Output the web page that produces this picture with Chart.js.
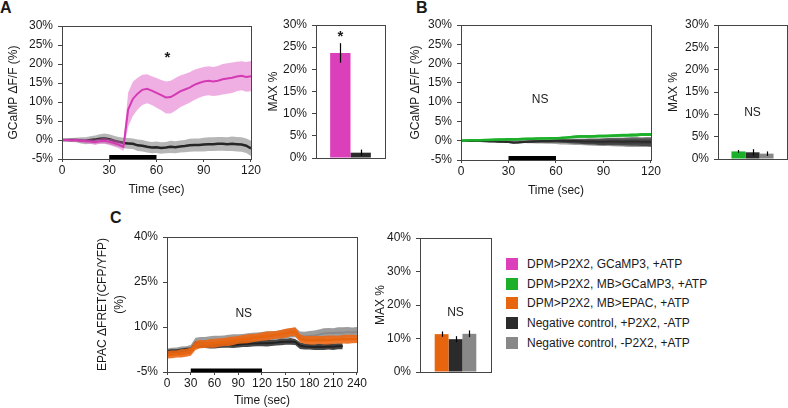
<!DOCTYPE html>
<html>
<head>
<meta charset="utf-8">
<script src="https://cdn.jsdelivr.net/npm/chart.js@4.4.0/dist/chart.umd.min.js"></script>
<style>
body { margin: 0; background: #fff; width: 788px; height: 408px; position: relative; overflow: hidden; font-family: "Liberation Sans", Arial, sans-serif; color: #1a1a1a; }
canvas { position: absolute; }
.panel { position: absolute; font-weight: bold; font-size: 16px; line-height: 1; }
#legend { position: absolute; left: 506px; top: 254px; font-size: 12px; }
.item { height: 19.7px; display: flex; align-items: center; white-space: nowrap; }
.sw { width: 12px; height: 12px; margin-right: 9px; }
</style>
</head>
<body>
<div class="panel" style="left:0px;top:0px">A</div>
<div class="panel" style="left:416px;top:0px">B</div>
<div class="panel" style="left:110px;top:210px">C</div>

<canvas id="line_a" width="262" height="200" style="left:0px;top:0px"></canvas>
<canvas id="bar_a" width="130" height="200" style="left:262px;top:0px"></canvas>
<canvas id="line_b" width="262" height="200" style="left:400px;top:0px"></canvas>
<canvas id="bar_b" width="126" height="200" style="left:662px;top:0px"></canvas>
<canvas id="line_c" width="308" height="208" style="left:60px;top:200px"></canvas>
<canvas id="bar_c" width="130" height="208" style="left:370px;top:200px"></canvas>
<div id="legend"></div>

<script>
// Legenda
var legend_labels = ['DPM>P2X2, GCaMP3, +ATP', 'DPM>P2X2, MB>GCaMP3, +ATP', 'DPM>P2X2, MB>EPAC, +ATP',
                     'Negative control, +P2X2, -ATP', 'Negative control, -P2X2, +ATP'];
var legend_colors = ['#dc3fba', '#1cb02a', '#e8650f', '#2b2b2b', '#888888'];

// Tempo (sec) - painéis A e B
var time_ab = [0,3,6,9,12,15,18,21,24,27,30,33,36,39,42,45,48,51,54,57,60,63,66,69,72,75,78,81,84,87,90,93,96,99,102,105,108,111,114,117,120];
// Tempo (sec) - painel C
var time_c = [0,6,12,18,24,30,36,42,48,54,60,66,72,78,84,90,96,102,108,114,120,126,132,138,144,150,156,162,168,174,180,186,192,198,204,210,216,222,228,234,240];

// Estímulo ATP (início, fim)
var stim_ab = [30, 60];
var stim_c = [30, 120];

// Painel A: GCaMP dF/F (%)
var a_dpm = [0,0,-0.1,0,-0.2,-0.3,-0.4,-0.6,-0.3,-0.2,-0.5,-0.8,-1.2,-1.8,8.0,10.8,12.2,13.2,13.5,13.0,12.4,11.8,11.2,11.3,12.0,12.8,13.3,13.8,14.5,15.0,15.4,15.6,15.4,15.6,16.0,16.2,16.4,16.7,16.9,16.6,16.8];
var a_dpm_sem = [0.3,0.3,0.4,0.4,0.5,0.5,0.6,0.7,0.7,0.8,0.8,0.9,1.0,1.1,4.5,4.5,4.2,4.0,3.8,3.8,3.9,4.0,4.2,4.3,4.3,4.2,4.1,4.0,4.0,3.9,3.8,3.8,3.8,3.9,4.0,4.0,4.0,3.9,3.8,3.9,4.0];
var a_ctrl = [0,0,0,0,-0.1,-0.2,0,0.1,0.3,0.4,0.2,-0.2,-0.5,-0.8,-0.9,-1.0,-1.4,-1.5,-1.8,-2.0,-1.9,-2.1,-2.0,-1.8,-1.9,-1.7,-1.6,-1.4,-1.3,-1.3,-1.2,-1.1,-1.1,-1.0,-1.0,-1.1,-1.0,-1.1,-1.2,-1.5,-2.2];
var a_ctrl_sem = [0.3,0.4,0.5,0.6,0.8,0.9,1.0,1.1,1.2,1.3,1.3,1.3,1.3,1.4,1.4,1.4,1.5,1.5,1.5,1.5,1.5,1.5,1.5,1.6,1.6,1.6,1.6,1.7,1.7,1.7,1.8,1.8,1.8,1.8,1.8,1.8,1.9,1.9,1.9,1.9,2.0];

// Painel B: MB GCaMP dF/F (%)
var b_dpm = [0,0.05,0.1,0.1,0.15,0.2,0.2,0.25,0.3,0.3,0.35,0.35,0.4,0.45,0.5,0.5,0.55,0.6,0.6,0.65,0.65,0.7,0.8,0.9,1.0,1.1,1.1,1.1,1.15,1.2,1.2,1.25,1.3,1.35,1.4,1.4,1.45,1.5,1.6,1.6,1.6];
var b_dpm_sem = [0.2,0.2,0.2,0.25,0.25,0.25,0.3,0.3,0.3,0.3,0.3,0.3,0.3,0.3,0.3,0.3,0.3,0.3,0.3,0.3,0.3,0.3,0.3,0.3,0.35,0.35,0.35,0.35,0.35,0.35,0.35,0.35,0.35,0.4,0.4,0.4,0.4,0.4,0.4,0.4,0.4];
var b_ctrl_atp = [0,0,-0.05,-0.1,-0.1,-0.15,-0.2,-0.2,-0.25,-0.3,-0.35,-0.5,-0.45,-0.35,-0.25,-0.2,-0.15,-0.1,-0.1,-0.05,0,0,-0.05,-0.1,-0.1,-0.15,-0.2,-0.2,-0.2,-0.25,-0.25,-0.2,-0.2,-0.2,-0.25,-0.2,-0.2,-0.2,-0.25,-0.25,-0.3];
var b_ctrl_atp_sem = [0.1,0.1,0.1,0.15,0.15,0.15,0.2,0.2,0.2,0.2,0.25,0.25,0.25,0.3,0.3,0.3,0.3,0.35,0.35,0.4,0.4,0.45,0.5,0.55,0.6,0.65,0.7,0.75,0.8,0.85,0.9,0.9,0.95,1.0,1.0,1.05,1.1,1.1,1.1,1.15,1.2];
var b_ctrl_p2x2 = [0,0,0,-0.05,-0.05,-0.1,-0.1,-0.1,-0.15,-0.15,-0.2,-0.2,-0.2,-0.2,-0.25,-0.25,-0.25,-0.3,-0.3,-0.3,-0.3,-0.35,-0.35,-0.4,-0.4,-0.4,-0.45,-0.45,-0.5,-0.5,-0.5,-0.5,-0.55,-0.55,-0.55,-0.6,-0.6,-0.6,-0.6,-0.6,-0.6];
var b_ctrl_p2x2_sem = [0.1,0.1,0.15,0.15,0.2,0.2,0.2,0.25,0.25,0.3,0.3,0.3,0.35,0.35,0.4,0.4,0.45,0.45,0.5,0.5,0.55,0.6,0.6,0.65,0.7,0.7,0.75,0.8,0.8,0.85,0.9,0.9,0.9,0.95,0.95,1.0,1.0,1.0,1.0,1.0,1.0];

// Painel C: EPAC dFRET (%)
var c_dpm = [0.7,0.9,1.0,1.2,1.4,1.8,3.8,4.3,4.3,4.5,4.6,4.8,5.0,5.2,5.4,5.7,5.9,6.1,6.3,6.5,6.8,7.0,7.2,7.4,7.6,7.9,8.3,8.4,6.2,5.7,5.6,5.6,5.7,5.6,5.7,5.8,5.8,5.9,5.9,6.0,6.0];
var c_dpm_sem = [1.2,1.3,1.2,1.4,1.3,1.4,1.5,1.4,1.3,1.4,1.5,1.4,1.3,1.5,1.4,1.3,1.4,1.5,1.4,1.3,1.4,1.5,1.4,1.3,1.4,1.5,1.4,1.5,1.4,1.3,1.4,1.5,1.3,1.4,1.5,1.4,1.3,1.4,1.5,1.4,1.3];
var c_ctrl_atp = [1.5,1.6,1.7,1.8,2.0,2.2,4.2,4.0,3.9,3.8,3.9,4.0,4.0,4.1,4.1,4.2,4.3,4.4,4.5,4.5,4.6,4.6,4.7,4.8,5.0,5.1,5.2,5.0,3.8,3.5,3.4,3.3,3.4,3.3,3.5,3.4,3.6,3.6];
var c_ctrl_atp_sem = [0.9,1.0,0.9,1.0,1.1,1.0,1.1,1.0,0.9,1.0,1.1,1.0,0.9,1.0,1.1,1.0,1.0,1.1,1.0,0.9,1.0,1.1,1.0,1.0,1.1,1.0,1.1,1.0,1.1,1.0,0.9,1.0,1.1,1.0,1.0,1.1,1.0,1.0];
var c_ctrl_p2x2 = [1.5,1.7,1.9,2.0,2.2,2.6,4.8,5.2,5.3,5.4,5.5,5.6,5.8,5.9,6.0,6.1,6.3,6.4,6.5,6.7,6.8,7.0,7.1,7.3,7.5,7.7,8.0,8.2,7.0,6.8,7.0,7.2,7.5,7.8,8.0,8.0,8.2,8.1,8.3,8.2,8.3];
var c_ctrl_p2x2_sem = [1.3,1.4,1.3,1.5,1.4,1.4,1.6,1.5,1.4,1.5,1.6,1.5,1.4,1.5,1.6,1.5,1.4,1.5,1.6,1.5,1.5,1.6,1.5,1.4,1.5,1.6,1.5,1.6,1.5,1.6,1.7,1.6,1.7,1.8,1.7,1.6,1.7,1.8,1.7,1.6,1.7];

// MAX % (média, erro)
var max_a = [23.7, 1.2];
var max_a_err = [2.2, 0.7];
var max_b = [1.7, 1.5, 1.2];
var max_b_err = [0.3, 0.7, 0.5];
var max_c = [11.3, 9.8, 11.4];
var max_c_err = [0.8, 0.9, 1.0];

Chart.defaults.font.family = '"Liberation Sans", Arial, sans-serif';
Chart.defaults.font.size = 12;
Chart.defaults.color = '#1a1a1a';

// Legenda em HTML
var leg = document.getElementById('legend');
for (var i = 0; i < legend_labels.length; i++) {
    var row = document.createElement('div');
    row.className = 'item';
    row.innerHTML = '<div class="sw" style="background:' + legend_colors[i] + '"></div>';
    row.appendChild(document.createTextNode(legend_labels[i]));
    leg.appendChild(row);
}

var axis_color = '#444';
var ord = 1000;

// Banda (média +- erro) e linha média
function band(list, xs, mean, sem, line_color, fill_color, lw) {
    var up = [], lo = [], mid = [];
    for (var i = 0; i < mean.length; i++) {
        up.push({x: xs[i], y: mean[i] + sem[i]});
        lo.push({x: xs[i], y: mean[i] - sem[i]});
        mid.push({x: xs[i], y: mean[i]});
    }
    list.push({data: up, borderWidth: 0, borderColor: 'rgba(0,0,0,0)', pointRadius: 0, fill: false, order: ord--});
    list.push({data: lo, borderWidth: 0, borderColor: 'rgba(0,0,0,0)', pointRadius: 0, fill: '-1', backgroundColor: fill_color, order: ord--});
    list.push({data: mid, borderWidth: lw, borderColor: line_color, pointRadius: 0, fill: false, order: ord--});
}

function stim(list, s) {
    list.push({data: [{x: s[0], y: -4.5}, {x: s[1], y: -4.5}], borderColor: '#000', borderWidth: 4,
               borderCapStyle: 'butt', pointRadius: 0, fill: false, order: 0});
}

// Caixa, barras de erro e textos
function extras(notes) {
    return {
        id: 'extras',
        afterDatasetsDraw: function(chart) {
            var ctx = chart.ctx, a = chart.chartArea, y = chart.scales.y;
            ctx.save();
            ctx.strokeStyle = axis_color;
            ctx.lineWidth = 1;
            ctx.strokeRect(Math.round(a.left) + 0.5, Math.round(a.top) + 0.5,
                           Math.round(a.right - a.left), Math.round(a.bottom - a.top));
            chart.data.datasets.forEach(function(ds, i) {
                if (!ds.err) return;
                chart.getDatasetMeta(i).data.forEach(function(bar, j) {
                    var x = Math.round(bar.x) + 0.5;
                    ctx.strokeStyle = '#000';
                    ctx.lineWidth = 1.2;
                    ctx.beginPath();
                    ctx.moveTo(x, y.getPixelForValue(ds.data[j] - ds.err[j]));
                    ctx.lineTo(x, y.getPixelForValue(ds.data[j] + ds.err[j]));
                    ctx.stroke();
                });
            });
            ctx.fillStyle = '#1a1a1a';
            ctx.textAlign = 'center';
            ctx.textBaseline = 'middle';
            notes.forEach(function(n) {
                var px;
                if (n.ds !== undefined) px = chart.getDatasetMeta(n.ds).data[0].x;
                else if (n.x !== undefined) px = chart.scales.x.getPixelForValue(n.x);
                else px = (a.left + a.right) / 2;
                ctx.font = n.font || '12px "Liberation Sans", Arial, sans-serif';
                ctx.fillText(n.text, px, y.getPixelForValue(n.y));
            });
            ctx.restore();
        }
    };
}

function yscale(min, max, step, title, w, tpad, lh) {
    return {
        min: min, max: max,
        ticks: {stepSize: step, padding: 5, callback: function(v) { return v + '%'; }},
        grid: {drawOnChartArea: false, tickLength: 4, color: axis_color},
        border: {color: axis_color},
        title: {display: true, text: title, padding: {top: tpad, bottom: 0}, font: {lineHeight: lh || 1.2}},
        afterFit: function(s) { s.width = w; }
    };
}

function line_chart(id, datasets, o, notes) {
    return new Chart(document.getElementById(id), {
        type: 'line',
        data: {datasets: datasets},
        options: {
            responsive: false, animation: false,
            layout: {padding: {top: o.top, right: o.right, left: 0, bottom: 0}},
            plugins: {legend: {display: false}, tooltip: {enabled: false}},
            scales: {
                x: {
                    type: 'linear', min: 0, max: o.xmax,
                    ticks: {stepSize: o.xstep, padding: 1, autoSkip: false, maxRotation: 0},
                    grid: {drawOnChartArea: false, tickLength: 3, color: axis_color},
                    border: {color: axis_color},
                    title: {display: true, text: 'Time (sec)', padding: {top: 0, bottom: o.tb}},
                    afterFit: function(s) { s.height = o.xh; }
                },
                y: yscale(o.ymin, o.ymax, o.ystep, o.ytitle, o.yw, o.tpad, o.lh)
            }
        },
        plugins: [extras(notes)]
    });
}

function bar_chart(id, values, errs, colors, o, notes) {
    var ds = [];
    for (var i = 0; i < values.length; i++) {
        ds.push({data: [values[i]], err: [errs[i]], backgroundColor: colors[i],
                 categoryPercentage: o.cat, barPercentage: 1});
    }
    return new Chart(document.getElementById(id), {
        type: 'bar',
        data: {labels: [''], datasets: ds},
        options: {
            responsive: false, animation: false,
            layout: {padding: {top: o.top, right: o.right, left: 0, bottom: 0}},
            plugins: {legend: {display: false}, tooltip: {enabled: false}},
            scales: {
                x: {
                    grid: {display: false}, ticks: {display: false},
                    border: {display: true, color: axis_color},
                    afterFit: function(s) { s.height = o.xh; }
                },
                y: yscale(0, o.ymax, o.ystep, 'MAX %', o.yw, o.tpad)
            }
        },
        plugins: [extras(notes)]
    });
}

// Painel A
var ds_a = [];
band(ds_a, time_ab, a_ctrl, a_ctrl_sem, '#262626', 'rgba(110,110,110,0.5)', 2.5);
band(ds_a, time_ab, a_dpm, a_dpm_sem, '#d43ab3', 'rgba(226,96,200,0.5)', 2);
stim(ds_a, stim_ab);
line_chart('line_a', ds_a,
    {top: 26, right: 6, xh: 41, yw: 62, xmax: 120, xstep: 30, ymin: -5, ymax: 30, ystep: 5,
     ytitle: 'GCaMP ΔF/F (%)', tpad: 6, tb: 3},
    [{x: 67, y: 21.6, text: '*', font: 'bold 15px "Liberation Sans", Arial, sans-serif'}]);

bar_chart('bar_a', max_a, max_a_err, [legend_colors[0], legend_colors[3]],
    {top: 25, right: 7, xh: 42, yw: 54, ymax: 30, ystep: 5, tpad: 4, cat: 0.59},
    [{ds: 0, y: 27.3, text: '*', font: 'bold 15px "Liberation Sans", Arial, sans-serif'}]);

// Painel B
var ds_b = [];
band(ds_b, time_ab, b_ctrl_p2x2, b_ctrl_p2x2_sem, '#777777', 'rgba(120,120,120,0.7)', 2);
band(ds_b, time_ab, b_ctrl_atp, b_ctrl_atp_sem, '#2b2b2b', 'rgba(45,45,45,0.75)', 2);
band(ds_b, time_ab, b_dpm, b_dpm_sem, '#1cb02a', 'rgba(30,176,44,0.85)', 2.5);
stim(ds_b, stim_ab);
line_chart('line_b', ds_b,
    {top: 25, right: 8, xh: 40, yw: 61, xmax: 120, xstep: 30, ymin: -5, ymax: 30, ystep: 5,
     ytitle: 'GCaMP ΔF/F (%)', tpad: 8, tb: 2},
    [{x: 50, y: 10.6, text: 'NS'}]);

bar_chart('bar_b', max_b, max_b_err, [legend_colors[1], legend_colors[3], legend_colors[4]],
    {top: 25, right: 1, xh: 41, yw: 56, ymax: 30, ystep: 5, tpad: 4, cat: 0.61},
    [{y: 10.3, text: 'NS'}]);

// Painel C
var ds_c = [];
band(ds_c, time_c, c_ctrl_p2x2, c_ctrl_p2x2_sem, '#8a8a8a', 'rgba(140,140,140,0.85)', 2);
band(ds_c, time_c, c_ctrl_atp, c_ctrl_atp_sem, '#222222', 'rgba(40,40,40,0.85)', 2);
band(ds_c, time_c, c_dpm, c_dpm_sem, '#e8650f', 'rgba(236,104,20,0.9)', 2.5);
stim(ds_c, stim_c);
line_chart('line_c', ds_c,
    {top: 37, right: 7, xh: 36, yw: 107, xmax: 240, xstep: 30, ymin: -5, ymax: 40, ystep: 15,
     ytitle: ['EPAC ΔFRET(CFP/YFP)', '(%)'], tpad: 34, tb: 0, lh: 1.4},
    [{x: 97, y: 14.6, text: 'NS'}]);

bar_chart('bar_c', max_c, max_c_err, [legend_colors[2], legend_colors[3], legend_colors[4]],
    {top: 38, right: 9, xh: 36, yw: 50, ymax: 40, ystep: 10, tpad: 3, cat: 0.586},
    [{y: 17.8, text: 'NS'}]);
</script>
</body>
</html>
